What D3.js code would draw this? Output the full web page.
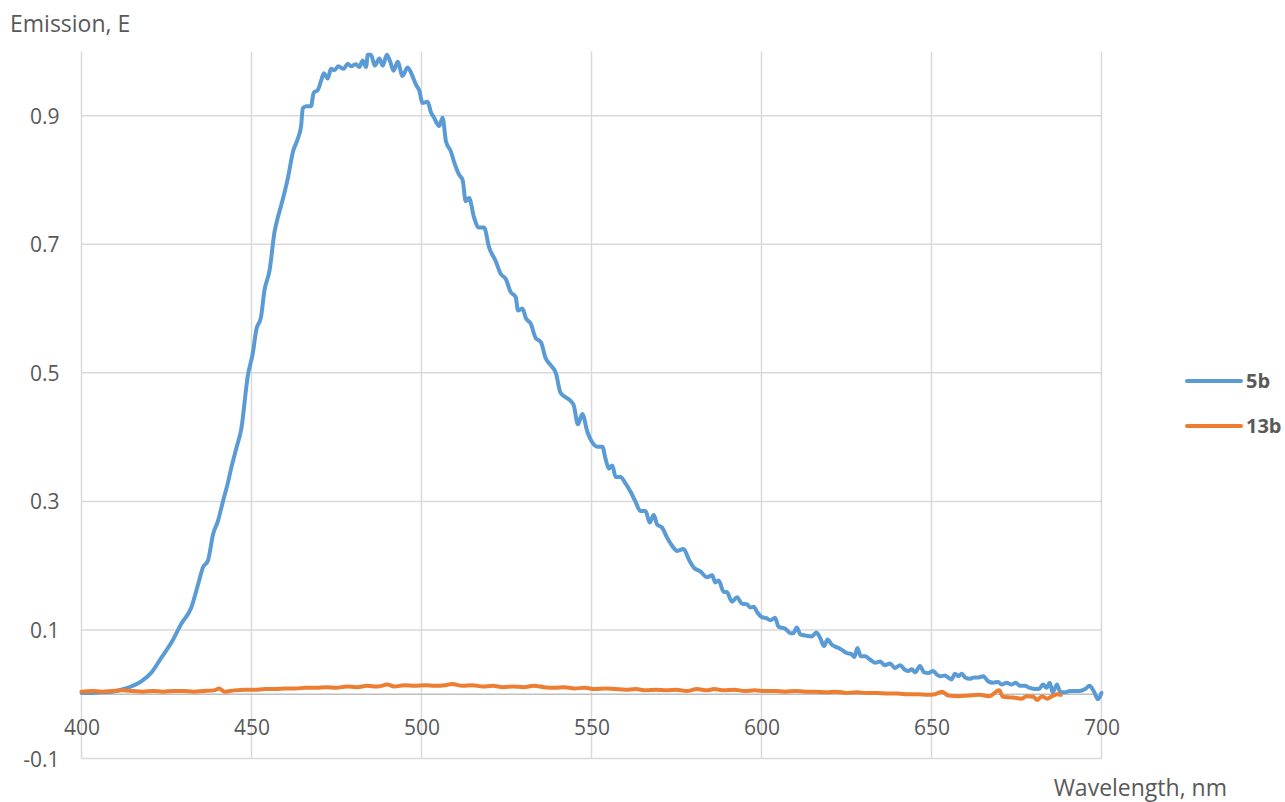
<!DOCTYPE html>
<html>
<head>
<meta charset="utf-8">
<script src="https://cdn.jsdelivr.net/npm/d3@7"></script>
<style>
  body { margin: 0; background: #fff; }
  text { font-family: "Open Sans", "DejaVu Sans", sans-serif; fill: #595959; }
  .grid line { stroke: #d9d9d9; stroke-width: 1.5; }
  .legend-text { font-weight: bold; }
</style>
</head>
<body>
<script>
// 5b emission (wavelength nm / value)
var wl5b = [400, 403, 406, 409, 411.7, 414.6, 417.6, 420.6, 423.5, 426.4, 429.4, 432.3, 434.6, 435.7, 437.2,
    438.7, 440.1, 441.6, 443.1, 444.0, 445.5, 447.0, 448.9, 450.4, 451.4, 452.8, 453.8, 455.3, 456.8, 457.7,
    458.7, 460.7, 462.2, 463.6, 464.6, 465.1, 466.1, 467.5, 468.3, 469.5, 470.5, 471.3, 472.4, 473.4, 474.4,
    475.5, 477.1, 478.3, 479.3, 480.7, 481.7, 482.7, 483.7, 484.2, 485.1, 486.3, 487.6, 488.6, 489.8, 490.8,
    491.8, 493.0, 494.4, 495.9, 497.4, 498.4, 499.3, 500.3, 501.8, 502.8, 503.7, 505.2, 506.2, 507.2, 508.6,
    509.6, 511.1, 512.1, 513.0, 514.0, 515.5, 516.9, 518.4, 519.9, 521.8, 523.3, 524.8, 526.2, 527.7, 528.4,
    529.7, 530.7, 532.1, 533.6, 535.1, 536.5, 538.0, 539.5, 540.9, 542.4, 543.9, 544.8, 546.0, 547.3, 548.8,
    550.2, 551.7, 553.2, 554.1, 555.1, 556.1, 557.1, 558.5, 560.0, 561.5, 562.9, 564.4, 565.9, 567.1, 568.3,
    569.3, 570.8, 572.2, 573.7, 575.2, 577.1, 578.6, 580.1, 582.0, 584.0, 585.5, 586.4, 587.4, 588.9, 589.8,
    591.3, 592.8, 594.2, 595.7, 596.7, 597.7, 598.7, 600.1, 601.6, 602.6, 604.0, 605.0, 607.0, 608.5, 609.4,
    610.4, 611.4, 613.3, 614.8, 616.1, 617.3, 618.4, 619.4, 620.7, 622.2, 623.6, 625.1, 626.3, 627.3, 628.2,
    629.2, 630.5, 631.9, 633.4, 634.9, 636.3, 637.8, 639.2, 640.8, 642.2, 643.2, 644.2, 645.2, 646.6, 647.8,
    649.1, 650.5, 651.5, 652.5, 654.0, 654.9, 655.9, 656.9, 657.9, 658.9, 659.9, 661.3, 662.5, 663.8, 665.2,
    666.7, 668.1, 669.6, 670.6, 672.1, 673.5, 674.8, 676.0, 677.4, 678.9, 680.4, 681.6, 682.8, 683.8, 684.8,
    685.6, 686.2, 686.9, 687.9, 689.2, 690.8, 692.2, 693.6, 695.2, 696.5, 697.7, 699.0, 700.0];
var em5b = [0.002, 0.002, 0.003, 0.004, 0.007, 0.012, 0.020, 0.034, 0.057, 0.080, 0.110, 0.135, 0.177, 0.197, 0.208,
    0.249, 0.269, 0.300, 0.330, 0.351, 0.382, 0.413, 0.495, 0.531, 0.567, 0.587, 0.628, 0.659, 0.720, 0.741,
    0.760, 0.803, 0.844, 0.864, 0.885, 0.912, 0.915, 0.915, 0.936, 0.940, 0.955, 0.966, 0.958, 0.973, 0.971,
    0.977, 0.973, 0.981, 0.977, 0.980, 0.976, 0.986, 0.976, 0.995, 0.995, 0.978, 0.989, 0.978, 0.995, 0.984,
    0.970, 0.984, 0.962, 0.975, 0.961, 0.948, 0.940, 0.920, 0.922, 0.905, 0.897, 0.884, 0.897, 0.860, 0.845,
    0.828, 0.808, 0.800, 0.767, 0.772, 0.741, 0.726, 0.726, 0.695, 0.674, 0.654, 0.646, 0.626, 0.618, 0.597,
    0.600, 0.585, 0.577, 0.554, 0.548, 0.523, 0.512, 0.500, 0.469, 0.462, 0.456, 0.449, 0.420, 0.436, 0.408,
    0.392, 0.385, 0.385, 0.367, 0.351, 0.356, 0.338, 0.338, 0.328, 0.315, 0.300, 0.285, 0.285, 0.267, 0.279,
    0.264, 0.259, 0.244, 0.231, 0.223, 0.226, 0.210, 0.197, 0.191, 0.182, 0.185, 0.174, 0.177, 0.159, 0.159,
    0.144, 0.151, 0.141, 0.140, 0.135, 0.136, 0.128, 0.120, 0.118, 0.115, 0.119, 0.105, 0.102, 0.095, 0.095,
    0.104, 0.093, 0.091, 0.090, 0.096, 0.087, 0.075, 0.085, 0.077, 0.073, 0.069, 0.064, 0.063, 0.058, 0.072,
    0.059, 0.059, 0.054, 0.049, 0.051, 0.045, 0.048, 0.041, 0.045, 0.038, 0.036, 0.039, 0.034, 0.044, 0.034,
    0.033, 0.036, 0.031, 0.028, 0.029, 0.026, 0.023, 0.032, 0.028, 0.032, 0.026, 0.024, 0.026, 0.026, 0.028,
    0.020, 0.018, 0.019, 0.015, 0.018, 0.015, 0.018, 0.013, 0.013, 0.010, 0.008, 0.008, 0.015, 0.010, 0.018,
    0.003, 0.008, 0.015, 0.003, 0.003, 0.005, 0.005, 0.005, 0.008, 0.013, 0.005, -0.008, 0.002];

// 13b emission
var wl13b = [400, 403, 406, 409, 412, 415, 418, 421, 424, 427, 430, 433, 436, 439, 440.5, 442, 445, 448, 451, 454,
    457, 460, 463, 466, 469, 472, 475, 478, 481, 484, 487, 490, 492, 495, 498, 501, 504, 507, 509, 512,
    515, 518, 521, 524, 527, 530, 533, 536, 539, 542, 545, 548, 551, 554, 557, 560, 563, 566, 569, 572,
    575, 578, 581, 584, 586, 589, 592, 595, 598, 601, 604, 607, 610, 613, 616, 619, 622, 625, 628, 631,
    634, 637, 640, 643, 646, 649, 651, 653, 655, 658, 661, 664, 667, 669.9, 671, 674, 676.5, 678, 680, 681,
    682.5, 684, 685.5, 687, 688];
var em13b = [0.004, 0.005, 0.004, 0.005, 0.006, 0.005, 0.004, 0.005, 0.004, 0.005, 0.005, 0.004, 0.005, 0.006, 0.009, 0.004, 0.006, 0.007, 0.007, 0.008,
    0.008, 0.009, 0.009, 0.010, 0.010, 0.011, 0.010, 0.012, 0.011, 0.013, 0.012, 0.015, 0.012, 0.014, 0.013, 0.014, 0.013, 0.014, 0.016, 0.013,
    0.014, 0.012, 0.013, 0.011, 0.012, 0.011, 0.013, 0.011, 0.010, 0.011, 0.009, 0.010, 0.008, 0.009, 0.008, 0.007, 0.008, 0.006, 0.007, 0.006,
    0.007, 0.005, 0.008, 0.006, 0.008, 0.006, 0.007, 0.005, 0.006, 0.005, 0.005, 0.004, 0.005, 0.004, 0.004, 0.003, 0.004, 0.002, 0.003, 0.002,
    0.002, 0.001, 0.001, 0.000, 0.000, -0.001, 0.000, 0.004, -0.002, -0.003, -0.002, -0.001, -0.003, 0.006, -0.004, -0.005, -0.007, -0.003, -0.004, -0.009,
    -0.003, -0.007, -0.003, 0.000, -0.001];

var seriesNames = ["5b", "13b"];
var seriesColors = ["#5b9bd5", "#ed7d31"];
var xTicks = [400, 450, 500, 550, 600, 650, 700];
var yTicks = [-0.1, 0.1, 0.3, 0.5, 0.7, 0.9];
var yTickLabels = ["-0.1", "0.1", "0.3", "0.5", "0.7", "0.9"];

var W = 1285, H = 802;
var margin = {top: 51.5, right: 183.5, bottom: 43.5, left: 81.5},
    width = W - margin.left - margin.right,
    height = H - margin.top - margin.bottom;

var svg = d3.select("body").append("svg")
    .attr("width", W)
    .attr("height", H);

var g = svg.append("g")
    .attr("transform", "translate(" + margin.left + "," + margin.top + ")");

var x = d3.scaleLinear().domain([400, 700]).range([0, width]);
var y = d3.scaleLinear().domain([-0.1, 1.0]).range([height, 0]);

// gridlines
var grid = g.append("g").attr("class", "grid");
grid.selectAll(".vg")
    .data(xTicks)
    .enter().append("line")
    .attr("class", "vg")
    .attr("x1", d => x(d)).attr("x2", d => x(d))
    .attr("y1", 0).attr("y2", height);
grid.selectAll(".hg")
    .data(yTicks)
    .enter().append("line")
    .attr("class", "hg")
    .attr("x1", 0).attr("x2", width)
    .attr("y1", d => y(d)).attr("y2", d => y(d));

// zero axis line
g.append("line")
    .attr("x1", 0).attr("x2", width)
    .attr("y1", y(0)).attr("y2", y(0))
    .attr("stroke", "#bfbfbf")
    .attr("stroke-width", 1.5);

// x tick labels sit under the zero line
var xAxis = g.append("g")
    .attr("transform", "translate(0," + y(0) + ")")
    .call(d3.axisBottom(x).tickValues(xTicks).tickSize(0).tickPadding(0).tickFormat(d3.format("d")));
xAxis.select(".domain").remove();
xAxis.selectAll("text")
    .attr("dy", null)
    .attr("y", 41)
    .style("font-size", "21px")
    .attr("fill", "#595959");

var yAxis = g.append("g")
    .call(d3.axisLeft(y).tickValues(yTicks).tickSize(0).tickPadding(22)
        .tickFormat((d, i) => yTickLabels[i]));
yAxis.select(".domain").remove();
yAxis.selectAll("text")
    .attr("dy", "0.36em")
    .style("font-size", "21px")
    .attr("fill", "#595959");

// lines
var series = [
    {name: seriesNames[0], color: seriesColors[0], pts: wl5b.map((d, i) => [d, em5b[i]])},
    {name: seriesNames[1], color: seriesColors[1], pts: wl13b.map((d, i) => [d, em13b[i]])}
];

var line = d3.line()
    .x(d => x(d[0]))
    .y(d => y(d[1]))
    .curve(d3.curveMonotoneX);

g.selectAll(".series")
    .data(series)
    .enter().append("path")
    .attr("class", "series")
    .attr("fill", "none")
    .attr("stroke", d => d.color)
    .attr("stroke-width", 4)
    .attr("stroke-linejoin", "round")
    .attr("stroke-linecap", "round")
    .attr("d", d => line(d.pts));

// axis titles
svg.append("text")
    .attr("x", 10)
    .attr("y", 32)
    .style("font-size", "23px")
    .text("Emission, E");

svg.append("text")
    .attr("x", 1227)
    .attr("y", 796)
    .attr("text-anchor", "end")
    .style("font-size", "23px")
    .text("Wavelength, nm");

// legend
var legend = svg.append("g")
    .attr("class", "legend")
    .attr("transform", "translate(1187,381)");

legend.selectAll(".legend-line")
    .data(series)
    .enter().append("line")
    .attr("x1", 0).attr("x2", 54)
    .attr("y1", (d, i) => i * 45).attr("y2", (d, i) => i * 45)
    .attr("stroke", d => d.color)
    .attr("stroke-width", 4)
    .attr("stroke-linecap", "round");

legend.selectAll(".legend-text")
    .data(series)
    .enter().append("text")
    .attr("class", "legend-text")
    .attr("x", 59)
    .attr("y", (d, i) => i * 45)
    .attr("dy", "0.36em")
    .style("font-size", "20px")
    .text(d => d.name);
</script>
</body>
</html>
